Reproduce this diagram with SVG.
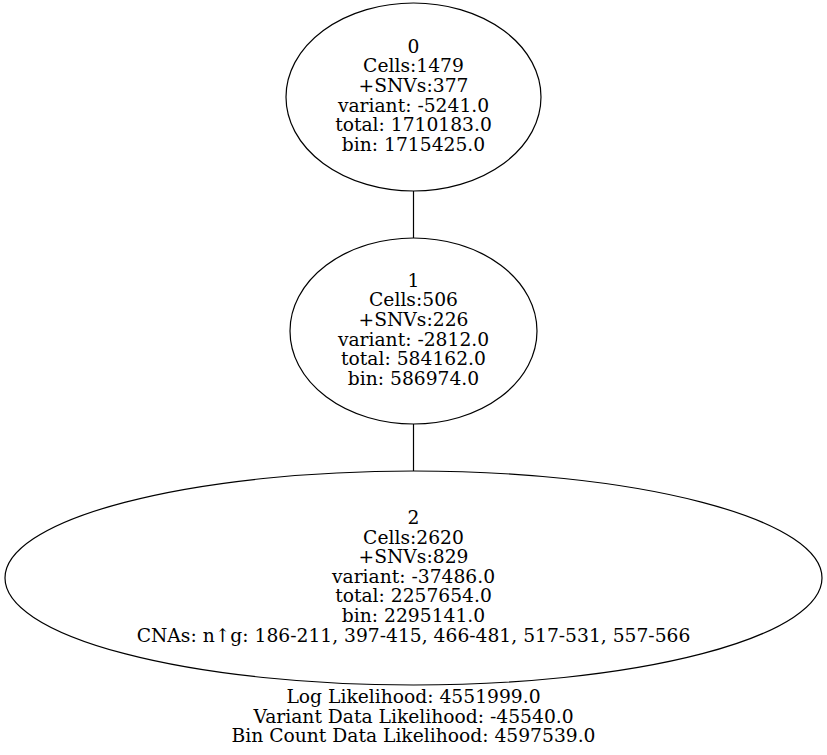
<svg xmlns="http://www.w3.org/2000/svg" width="827" height="755" viewBox="0 0 827 755">
  <style>
    .node ellipse { fill: none; stroke: #000; stroke-width: 1.2; }
    .edges line { stroke: #000; stroke-width: 1.2; }
    text { font-family: "DejaVu Serif", "Liberation Serif", serif; font-size: 18.7px; fill: #000; text-anchor: middle; }
  </style>
  <rect width="827" height="755" fill="#fff"/>

  <g id="edges" class="edges">
    <line x1="413.5" y1="191" x2="413.5" y2="238"/>
    <line x1="413.5" y1="424" x2="413.5" y2="471"/>
  </g>

  <g id="node0" class="node">
    <ellipse cx="413.5" cy="97" rx="127.5" ry="94"/>
    <text x="413.5" y="52.7">0</text>
    <text x="413.5" y="72.3">Cells:1479</text>
    <text x="413.5" y="91.9">+SNVs:377</text>
    <text x="413.5" y="111.5">variant: -5241.0</text>
    <text x="413.5" y="131.1">total: 1710183.0</text>
    <text x="413.5" y="150.7">bin: 1715425.0</text>
  </g>

  <g id="node1" class="node">
    <ellipse cx="413.5" cy="331" rx="123.5" ry="93"/>
    <text x="413.5" y="286.7">1</text>
    <text x="413.5" y="306.3">Cells:506</text>
    <text x="413.5" y="325.9">+SNVs:226</text>
    <text x="413.5" y="345.5">variant: -2812.0</text>
    <text x="413.5" y="365.1">total: 584162.0</text>
    <text x="413.5" y="384.7">bin: 586974.0</text>
  </g>

  <g id="node2" class="node">
    <ellipse cx="413.5" cy="578" rx="408.5" ry="107"/>
    <text x="413.5" y="523.9">2</text>
    <text x="413.5" y="543.5">Cells:2620</text>
    <text x="413.5" y="563.1">+SNVs:829</text>
    <text x="413.5" y="582.7">variant: -37486.0</text>
    <text x="413.5" y="602.3">total: 2257654.0</text>
    <text x="413.5" y="621.9">bin: 2295141.0</text>
    <text x="413.5" y="641.5">CNAs: n↑g: 186-211, 397-415, 466-481, 517-531, 557-566</text>
  </g>

  <g id="graph-label">
    <text x="413.5" y="703">Log Likelihood: 4551999.0</text>
    <text x="413.5" y="722.6">Variant Data Likelihood: -45540.0</text>
    <text x="413.5" y="742.2">Bin Count Data Likelihood: 4597539.0</text>
  </g>
</svg>
